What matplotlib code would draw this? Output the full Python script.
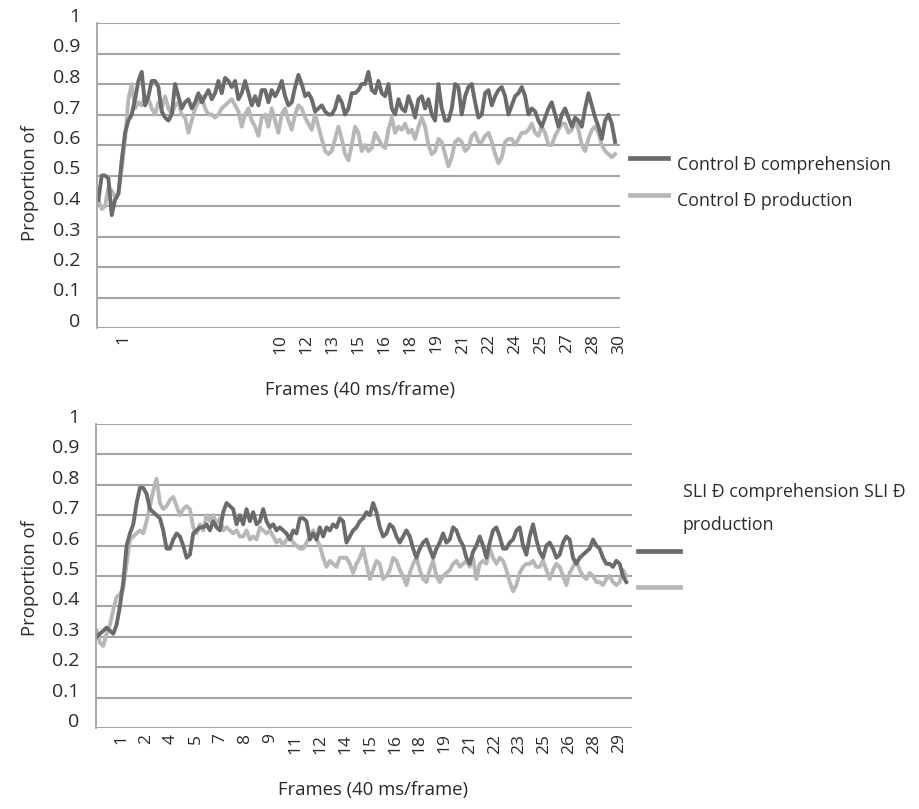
import matplotlib
matplotlib.use("Agg")
import matplotlib.pyplot as plt
import matplotlib.transforms as mtransforms
from matplotlib.lines import Line2D
import numpy as np

plt.rcParams['font.family'] = ['Open Sans', 'DejaVu Sans']

# ---------------- data ----------------
y_ticks = [0, 0.1, 0.2, 0.3, 0.4, 0.5, 0.6, 0.7, 0.8, 0.9, 1.0]
y_tick_labels = ['0', '0.1', '0.2', '0.3', '0.4', '0.5', '0.6', '0.7', '0.8', '0.9', '1']

top_tick_labels = ['1', '', '', '', '', '', '10', '12', '13', '15', '16', '18', '19',
                   '21', '22', '24', '25', '27', '28', '30']
bottom_tick_labels = ['1', '2', '4', '5', '7', '8', '9', '11', '12', '14', '15', '16',
                      '18', '19', '21', '22', '23', '25', '26', '28', '29']

control_comprehension = [
    0.42, 0.50, 0.50, 0.49, 0.37, 0.42, 0.44, 0.55, 0.64, 0.68,
    0.70, 0.75, 0.81, 0.84, 0.73, 0.76, 0.81, 0.81, 0.79, 0.71,
    0.69, 0.68, 0.70, 0.80, 0.76, 0.72, 0.74, 0.75, 0.72, 0.74,
    0.77, 0.74, 0.76, 0.78, 0.75, 0.77, 0.81, 0.77, 0.82, 0.81,
    0.79, 0.81, 0.75, 0.77, 0.81, 0.77, 0.73, 0.76, 0.73, 0.78,
    0.78, 0.74, 0.78, 0.76, 0.78, 0.81, 0.76, 0.73, 0.74, 0.79,
    0.83, 0.80, 0.76, 0.77, 0.75, 0.71, 0.72, 0.73, 0.71, 0.70,
    0.70, 0.72, 0.76, 0.74, 0.70, 0.72, 0.77, 0.77, 0.78, 0.80,
    0.80, 0.84, 0.78, 0.77, 0.81, 0.77, 0.76, 0.80, 0.72, 0.70,
    0.75, 0.72, 0.71, 0.76, 0.73, 0.69, 0.75, 0.76, 0.72, 0.75,
    0.70, 0.68, 0.80, 0.72, 0.68, 0.68, 0.72, 0.80, 0.79,
    0.70, 0.76, 0.79, 0.80, 0.74, 0.69, 0.70, 0.77, 0.78, 0.73,
    0.76, 0.78, 0.79, 0.76, 0.70, 0.73, 0.76, 0.77, 0.79, 0.76,
    0.70, 0.72, 0.71, 0.68, 0.66, 0.69, 0.72, 0.74, 0.70, 0.66,
    0.70, 0.72, 0.69, 0.66, 0.69, 0.68, 0.66, 0.72, 0.77, 0.73,
    0.69, 0.66, 0.62, 0.68, 0.70, 0.67, 0.61,
]

control_production = [
    0.42, 0.39, 0.40, 0.46, 0.45, 0.43, 0.44, 0.52, 0.62, 0.75,
    0.80, 0.72, 0.74, 0.73, 0.76, 0.75, 0.72, 0.70, 0.74, 0.72,
    0.76, 0.72, 0.70, 0.73, 0.74, 0.70, 0.69, 0.64, 0.68, 0.72,
    0.74, 0.76, 0.72, 0.70, 0.70, 0.69, 0.70, 0.72, 0.73, 0.74,
    0.75, 0.73, 0.71, 0.66, 0.70, 0.72, 0.68, 0.66, 0.63, 0.69,
    0.70, 0.66, 0.72, 0.68, 0.64, 0.70, 0.72, 0.68, 0.65, 0.70,
    0.73, 0.72, 0.69, 0.67, 0.65, 0.70, 0.66, 0.62, 0.58, 0.57,
    0.58, 0.62, 0.66, 0.62, 0.57, 0.55, 0.60, 0.66, 0.64, 0.58,
    0.60, 0.58, 0.59, 0.64, 0.62, 0.60, 0.59, 0.65, 0.69, 0.64,
    0.66, 0.65, 0.67, 0.64, 0.65, 0.62, 0.66, 0.69, 0.66, 0.60,
    0.57, 0.58, 0.62, 0.61, 0.57, 0.53, 0.56, 0.61, 0.62,
    0.61, 0.58, 0.59, 0.63, 0.64, 0.61, 0.61, 0.63, 0.64, 0.61,
    0.57, 0.54, 0.56, 0.61, 0.62, 0.62, 0.60, 0.62, 0.64, 0.64,
    0.65, 0.67, 0.64, 0.63, 0.66, 0.64, 0.60, 0.60, 0.63, 0.65,
    0.67, 0.67, 0.64, 0.65, 0.68, 0.65, 0.60, 0.58, 0.62, 0.65,
    0.66, 0.64, 0.60, 0.58, 0.57, 0.56, 0.57,
]

sli_comprehension = [
    0.30, 0.31, 0.32, 0.33, 0.32, 0.31, 0.34, 0.40, 0.48, 0.60,
    0.64, 0.67, 0.74, 0.79, 0.79, 0.77, 0.72, 0.71, 0.70, 0.69,
    0.65, 0.59, 0.59, 0.62, 0.64, 0.63, 0.60, 0.56, 0.57, 0.64,
    0.65, 0.66, 0.66, 0.67, 0.65, 0.68, 0.66, 0.65, 0.71, 0.74,
    0.73, 0.72, 0.67, 0.70, 0.67, 0.72, 0.68, 0.71, 0.67, 0.68,
    0.72, 0.68, 0.66, 0.67, 0.65, 0.66, 0.65, 0.64, 0.62, 0.65,
    0.64, 0.69, 0.69, 0.68, 0.62, 0.64, 0.62, 0.66, 0.63, 0.66,
    0.65, 0.67, 0.66, 0.69, 0.68, 0.61, 0.63, 0.65, 0.66, 0.68,
    0.69, 0.71,
    0.70, 0.74, 0.71, 0.66, 0.63, 0.64, 0.67, 0.66, 0.63, 0.61,
    0.63, 0.65, 0.63, 0.59, 0.56, 0.59, 0.61, 0.62, 0.59, 0.56,
    0.59, 0.61, 0.64, 0.61, 0.62, 0.66, 0.65, 0.62, 0.60, 0.56,
    0.54, 0.58, 0.60, 0.63, 0.60, 0.56, 0.61, 0.65, 0.66, 0.63,
    0.59, 0.59, 0.61, 0.62, 0.65, 0.66, 0.60, 0.57, 0.63, 0.67,
    0.62, 0.58, 0.56, 0.60, 0.61, 0.59, 0.56, 0.57, 0.61, 0.63,
    0.62, 0.56, 0.54, 0.56, 0.57, 0.58, 0.59, 0.62, 0.60, 0.59,
    0.56, 0.54, 0.54, 0.53, 0.55, 0.54, 0.50, 0.48,
]

sli_production = [
    0.32, 0.28, 0.27, 0.31, 0.34, 0.39, 0.43, 0.44, 0.46, 0.54,
    0.62, 0.63, 0.64, 0.65, 0.64, 0.68, 0.73, 0.78, 0.82, 0.74,
    0.72, 0.73, 0.75, 0.76, 0.73, 0.70, 0.72, 0.73, 0.72, 0.66,
    0.64, 0.67, 0.65, 0.70, 0.68, 0.70, 0.67, 0.69, 0.65, 0.66,
    0.65, 0.64, 0.65, 0.63, 0.63, 0.65, 0.62, 0.63, 0.62, 0.66,
    0.65, 0.64, 0.65, 0.63, 0.61, 0.62, 0.60, 0.62, 0.63, 0.61,
    0.60, 0.59, 0.59, 0.61, 0.63, 0.65, 0.62, 0.60, 0.56, 0.53,
    0.55, 0.54, 0.53, 0.56, 0.56, 0.56, 0.54, 0.51, 0.54, 0.56,
    0.59, 0.54,
    0.49, 0.52, 0.55, 0.54, 0.49, 0.50, 0.52, 0.56, 0.55, 0.52,
    0.50, 0.47, 0.51, 0.54, 0.56, 0.52, 0.49, 0.48, 0.52, 0.55,
    0.50, 0.48, 0.50, 0.51, 0.52, 0.54, 0.55, 0.53, 0.54, 0.55,
    0.53, 0.56, 0.49, 0.54, 0.55, 0.54, 0.59, 0.56, 0.54, 0.56,
    0.55, 0.52, 0.48, 0.45, 0.47, 0.51, 0.53, 0.54, 0.54, 0.55,
    0.53, 0.53, 0.55, 0.52, 0.49, 0.52, 0.54, 0.53, 0.50, 0.47,
    0.51, 0.53, 0.55, 0.52, 0.50, 0.49, 0.51, 0.50, 0.48, 0.48,
    0.47, 0.49, 0.50, 0.48, 0.47, 0.48, 0.52, 0.50,
]

# frame time of each sample (frames of 40 ms)
top_frames = np.linspace(-0.22, 29.44, len(control_comprehension))
bottom_frames = np.linspace(-0.37, 29.40, len(sli_comprehension))

DARK = '#6b6b6b'
LIGHT = '#b7b7b7'
GRID = '#a3a3a3'
TEXT = '#2a2a2a'
LW = 2.8

W, H = 920, 809
fig = plt.figure(figsize=(W / 100, H / 100), dpi=100)
fig.patch.set_facecolor('white')


def style_axes(ax):
    ax.set_ylim(0, 1)
    ax.set_yticks(y_ticks)
    ax.set_yticklabels(y_tick_labels)
    ax.yaxis.grid(True, color=GRID, linewidth=1.5)
    ax.xaxis.grid(False)
    ax.set_axisbelow(True)
    for s in ['top', 'right', 'bottom']:
        ax.spines[s].set_visible(False)
    ax.spines['left'].set_color(GRID)
    ax.spines['left'].set_linewidth(1.3)
    ax.tick_params(axis='y', length=0, pad=12, labelsize=14, labelcolor=TEXT)
    ax.tick_params(axis='x', length=0, pad=4, labelsize=12.5, labelcolor=TEXT)
    off = mtransforms.ScaledTranslation(0, 0.08, fig.dpi_scale_trans)
    for lab in ax.get_yticklabels():
        lab.set_transform(lab.get_transform() + off)


# ---- top panel ----
ax1 = fig.add_axes([97 / W, 1 - 328 / H, 523 / W, 305 / H])
style_axes(ax1)
ax1.set_xlim(-0.3, 29.72)
ax1.plot(top_frames, control_production, color=LIGHT, lw=LW, solid_joinstyle='round')
ax1.plot(top_frames, control_comprehension, color=DARK, lw=LW, solid_joinstyle='round')
ax1.set_xticks(np.linspace(1.2, 29.7, len(top_tick_labels)))
ax1.set_xticklabels(top_tick_labels, rotation=90)

# ---- bottom panel ----
ax2 = fig.add_axes([96 / W, 1 - 728 / H, 536 / W, 304 / H])
style_axes(ax2)
ax2.set_xlim(-0.405, 29.72)
ax2.plot(bottom_frames, sli_production, color=LIGHT, lw=LW, solid_joinstyle='round')
ax2.plot(bottom_frames, sli_comprehension, color=DARK, lw=LW, solid_joinstyle='round')
ax2.set_xticks(np.linspace(1, 29, len(bottom_tick_labels)))
ax2.set_xticklabels(bottom_tick_labels, rotation=90)

# ---- axis titles ----
for yc in (183, 578):
    fig.text(30 / W, 1 - yc / H, 'Proportion of', rotation=90, ha='center', va='center',
             fontsize=13.3, color=TEXT)
fig.text(360 / W, 1 - 390 / H, 'Frames (40 ms/frame)', ha='center', va='center',
         fontsize=13.3, color=TEXT)
fig.text(373 / W, 1 - 790 / H, 'Frames (40 ms/frame)', ha='center', va='center',
         fontsize=13.3, color=TEXT)

# ---- legends ----
def key(x0, x1, y, color):
    fig.add_artist(Line2D([x0 / W, x1 / W], [1 - y / H, 1 - y / H], color=color, lw=3.4,
                          transform=fig.transFigure))

key(630, 668, 158, DARK)
key(630, 668, 195, LIGHT)
fig.text(677 / W, 1 - 165 / H, 'Control Đ comprehension', ha='left', va='center',
         fontsize=12.8, color=TEXT)
fig.text(677 / W, 1 - 201 / H, 'Control Đ production', ha='left', va='center',
         fontsize=12.8, color=TEXT)

key(638, 680, 551, DARK)
key(638, 680, 587, LIGHT)
fig.text(683 / W, 1 - 492 / H, 'SLI Đ comprehension SLI Đ', ha='left', va='center',
         fontsize=12.8, color=TEXT)
fig.text(683 / W, 1 - 525 / H, 'production', ha='left', va='center',
         fontsize=12.8, color=TEXT)

fig.savefig('out.png', dpi=100, facecolor='white')
